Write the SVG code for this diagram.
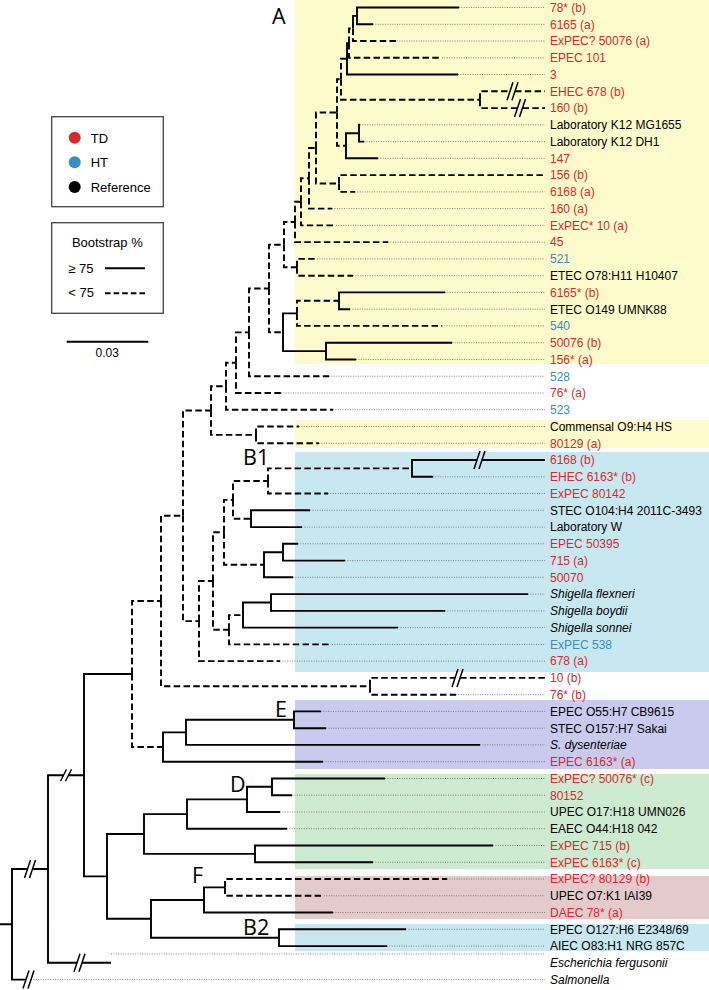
<svg xmlns="http://www.w3.org/2000/svg" xmlns:xlink="http://www.w3.org/1999/xlink" width="709" height="990" viewBox="0 0 709 990">
<style>
.s{fill:none;stroke:#000;stroke-width:1.9}
.d{fill:none;stroke:#000;stroke-width:1.9;stroke-dasharray:6.5 3.3}
.o{fill:none;stroke:#666;stroke-width:0.8;stroke-dasharray:1 1.4}
.bk{fill:none;stroke:#000;stroke-width:1.5}
text{font-family:"Liberation Sans",Arial,sans-serif;font-size:12px}
.r{fill:#d42a2f}.b{fill:#3a8cc4}.k{fill:#000}
.i{font-style:italic}
.cl{font-family:"Open Sans","DejaVu Sans",sans-serif;font-size:21.5px;fill:#000}
.lg{font-size:13px;fill:#000}
.box{fill:#fff;stroke:#444;stroke-width:1.3}
</style>
<defs>
<path id="brk" d="M-5.5 9L0.5 -9M-0.5 9L5.5 -9"/>
</defs>
<rect width="709" height="990" fill="#fff"/>
<g id="bands">
<rect x="295" y="0" width="414" height="364" fill="#fdfacb"/>
<rect x="295" y="420" width="414" height="28" fill="#fdfacb"/>
<rect x="295" y="452" width="414" height="220" fill="#c8e8f1"/>
<rect x="295" y="700" width="414" height="69" fill="#cac9ee"/>
<rect x="295" y="774" width="414" height="95" fill="#cdebd1"/>
<rect x="295" y="876" width="414" height="43" fill="#e4caca"/>
<rect x="295" y="924" width="414" height="27" fill="#c8e8f1"/>
</g>
<g id="clade-labels">
<text class="cl" x="272" y="23.5">A</text>
<text class="cl" x="243" y="465">B1</text>
<text class="cl" x="275" y="717">E</text>
<text class="cl" x="230" y="792">D</text>
<text class="cl" x="192" y="883">F</text>
<text class="cl" x="243" y="935">B2</text>
</g>
<g id="connectors">
<g id="leaders">
<path class="o" d="M459 7.5H545M373 24.3H545M397 41H545M442 57.8H545M458 74.5H545M360 124.8H545M364 141.6H545M378 158.3H545M355 191.9H545M332 208.6H545M336 225.4H545M388 242.1H545M317 258.9H545M353 275.7H545M445 292.4H545M350 309.2H545M442 325.9H545M452 342.7H545M356 359.5H545M329 376.2H545M281 393H545M333 409.7H545M299 426.5H545M319 443.3H545M433 476.8H545M328 493.5H545M310 510.3H545M302 527.1H545M298 543.8H545M345 560.6H545M293 577.3H545M528 594.1H545M445 610.9H545M398 627.6H545M332 644.4H545M280 661.1H545M456 694.7H545M321 711.4H545M326 728.2H545M480 744.9H545M323 761.7H545M385 778.5H545M292 795.2H545M280 812H545M287 828.7H545M493 845.5H545M373 862.3H545M447 879H545M324 895.8H545M333 912.5H545M406 929.3H545M387 946.1H545M111 954H545M31 979.6H545"/>
</g>
<g id="branches-solid">
<path class="s" d="M357 15.9V7.5H459M357 15.9V24.3H373M353 28.5V15.9H357M347 58.8V43.1H349M347 58.8V74.5H458"/>
<path class="s" d="M359 133.2V124.8H360M359 133.2V141.6H364M346 145.8V133.2H359M346 145.8V158.3H378"/>
<path class="s" d="M339 300.8V292.4H445M339 300.8V309.2H350M326 351.1V342.7H452M326 351.1V359.5H356M283 332.2V313.4H297M283 332.2V351.1H326"/>
<path class="s" d="M412 468.4V460H477M482 460H545M412 468.4V476.8H433M251 518.7V510.3H310M251 518.7V527.1H302"/>
<path class="s" d="M283 552.2V543.8H298M283 552.2V560.6H345M264 564.8V552.2H283M264 564.8V577.3H293"/>
<path class="s" d="M271 602.5V594.1H528M271 602.5V610.9H445M243 615.1V602.5H271M243 615.1V627.6H398"/>
<path class="s" d="M294 719.8V711.4H321M294 719.8V728.2H326M186 732.4V719.8H294M186 732.4V744.9H480M163 747V732.4H186M163 747V761.7H323"/>
<path class="s" d="M272 786.8V778.5H385M272 786.8V795.2H292M247 799.4V786.8H272M247 799.4V812H280M187 814.1V799.4H247M187 814.1V828.7H287M255 853.9V845.5H493M255 853.9V862.3H373M144 834V814.1H187M144 834V853.9H255"/>
<path class="s" d="M204 900V887.4H225M204 900V912.5H333M279 937.7V929.3H406M279 937.7V946.1H387M151 918.8V900H204M151 918.8V937.7H279M107 876.4V834H144M107 876.4V918.8H151"/>
<path class="s" d="M84 775.2V674H132M84 775.2V876.4H107M48 869V775.2H63.5M68.5 775.2H84M48 869V962.8H77M82 962.8H111M12 924.3V869H27.5M32.5 869H48M12 924.3V979.6H26M0 924.3H12"/>
</g>
<g id="branches-dashed">
<path class="d" d="M353 28.5V41H397"/>
<path class="d" d="M349 43.1V28.5H353"/>
<path class="d" d="M349 43.1V57.8H442"/>
<path class="d" d="M341 79.2V58.8H347"/>
<path class="d" d="M341 79.2V99.7H480"/>
<path class="d" d="M480 99.7V91.3H510"/>
<path class="d" d="M515 91.3H545"/>
<path class="d" d="M480 99.7V108.1H517.5"/>
<path class="d" d="M522.5 108.1H545"/>
<path class="d" d="M337 112.5V79.2H341"/>
<path class="d" d="M337 112.5V145.8H346"/>
<path class="d" d="M339 183.5V175.1H545"/>
<path class="d" d="M339 183.5V191.9H355"/>
<path class="d" d="M316 148V112.5H337"/>
<path class="d" d="M316 148V183.5H339"/>
<path class="d" d="M309 178.3V148H316"/>
<path class="d" d="M309 178.3V208.6H332"/>
<path class="d" d="M301 201.8V178.3H309"/>
<path class="d" d="M301 201.8V225.4H336"/>
<path class="d" d="M295 222V201.8H301"/>
<path class="d" d="M295 222V242.1H388"/>
<path class="d" d="M297 267.3V258.9H317"/>
<path class="d" d="M297 267.3V275.7H353"/>
<path class="d" d="M284 244.7V222H295"/>
<path class="d" d="M284 244.7V267.3H297"/>
<path class="d" d="M297 313.4V300.8H339"/>
<path class="d" d="M297 313.4V325.9H442"/>
<path class="d" d="M269 288.5V244.7H284"/>
<path class="d" d="M269 288.5V332.2H283"/>
<path class="d" d="M249 332.4V288.5H269"/>
<path class="d" d="M249 332.4V376.2H329"/>
<path class="d" d="M236 362.7V332.4H249"/>
<path class="d" d="M236 362.7V393H281"/>
<path class="d" d="M226 386.2V362.7H236"/>
<path class="d" d="M226 386.2V409.7H333"/>
<path class="d" d="M256 434.9V426.5H299"/>
<path class="d" d="M256 434.9V443.3H319"/>
<path class="d" d="M211 410.5V386.2H226"/>
<path class="d" d="M211 410.5V434.9H256"/>
<path class="d" d="M268 481V468.4H412"/>
<path class="d" d="M268 481V493.5H328"/>
<path class="d" d="M233 499.9V481H268"/>
<path class="d" d="M233 499.9V518.7H251"/>
<path class="d" d="M224 532.3V499.9H233"/>
<path class="d" d="M224 532.3V564.8H264"/>
<path class="d" d="M229 629.7V615.1H243"/>
<path class="d" d="M229 629.7V644.4H332"/>
<path class="d" d="M213 581V532.3H224"/>
<path class="d" d="M213 581V629.7H229"/>
<path class="d" d="M199 621.1V581H213"/>
<path class="d" d="M199 621.1V661.1H280"/>
<path class="d" d="M183 515.8V410.5H211"/>
<path class="d" d="M183 515.8V621.1H199"/>
<path class="d" d="M370 686.3V677.9H455"/>
<path class="d" d="M460 677.9H545"/>
<path class="d" d="M370 686.3V694.7H456"/>
<path class="d" d="M161 601V515.8H183"/>
<path class="d" d="M161 601V686.3H370"/>
<path class="d" d="M132 674V601H161"/>
<path class="d" d="M132 674V747H163"/>
<path class="d" d="M225 887.4V879H447"/>
<path class="d" d="M225 887.4V895.8H324"/>
</g>
<g id="breaks">
<use xlink:href="#brk" class="bk" x="512.5" y="91.3"/>
<use xlink:href="#brk" class="bk" x="520" y="108.1"/>
<use xlink:href="#brk" class="bk" x="479.5" y="460"/>
<use xlink:href="#brk" class="bk" x="457.5" y="677.9"/>
<use xlink:href="#brk" class="bk" transform="translate(66 775.2) scale(1 0.65)"/>
<use xlink:href="#brk" class="bk" x="79.5" y="962.8"/>
<use xlink:href="#brk" class="bk" x="30" y="869"/>
<use xlink:href="#brk" class="bk" x="28.5" y="979.6"/>
</g>
</g>
<g id="leaves">
<g id="n01"><text class="r" x="550" y="11.8">78* (b)</text></g>
<g id="n02"><text class="r" x="550" y="28.6">6165 (a)</text></g>
<g id="n03"><text class="r" x="550" y="45.3">ExPEC? 50076 (a)</text></g>
<g id="n04"><text class="r" x="550" y="62.1">EPEC 101</text></g>
<g id="n05"><text class="r" x="550" y="78.8">3</text></g>
<g id="n06"><text class="r" x="550" y="95.6">EHEC 678 (b)</text></g>
<g id="n07"><text class="r" x="550" y="112.4">160 (b)</text></g>
<g id="n08"><text class="k" x="550" y="129.1">Laboratory K12 MG1655</text></g>
<g id="n09"><text class="k" x="550" y="145.9">Laboratory K12 DH1</text></g>
<g id="n10"><text class="r" x="550" y="162.6">147</text></g>
<g id="n11"><text class="r" x="550" y="179.4">156 (b)</text></g>
<g id="n12"><text class="r" x="550" y="196.2">6168 (a)</text></g>
<g id="n13"><text class="r" x="550" y="212.9">160 (a)</text></g>
<g id="n14"><text class="r" x="550" y="229.7">ExPEC* 10 (a)</text></g>
<g id="n15"><text class="r" x="550" y="246.4">45</text></g>
<g id="n16"><text class="b" x="550" y="263.2">521</text></g>
<g id="n17"><text class="k" x="550" y="280">ETEC O78:H11 H10407</text></g>
<g id="n18"><text class="r" x="550" y="296.7">6165* (b)</text></g>
<g id="n19"><text class="k" x="550" y="313.5">ETEC O149 UMNK88</text></g>
<g id="n20"><text class="b" x="550" y="330.2">540</text></g>
<g id="n21"><text class="r" x="550" y="347">50076 (b)</text></g>
<g id="n22"><text class="r" x="550" y="363.8">156* (a)</text></g>
<g id="n23"><text class="b" x="550" y="380.5">528</text></g>
<g id="n24"><text class="r" x="550" y="397.3">76* (a)</text></g>
<g id="n25"><text class="b" x="550" y="414">523</text></g>
<g id="n26"><text class="k" x="550" y="430.8">Commensal O9:H4 HS</text></g>
<g id="n27"><text class="r" x="550" y="447.6">80129 (a)</text></g>
<g id="n28"><text class="r" x="550" y="464.3">6168 (b)</text></g>
<g id="n29"><text class="r" x="550" y="481.1">EHEC 6163* (b)</text></g>
<g id="n30"><text class="r" x="550" y="497.8">ExPEC 80142</text></g>
<g id="n31"><text class="k" x="550" y="514.6">STEC O104:H4 2011C-3493</text></g>
<g id="n32"><text class="k" x="550" y="531.4">Laboratory W</text></g>
<g id="n33"><text class="r" x="550" y="548.1">EPEC 50395</text></g>
<g id="n34"><text class="r" x="550" y="564.9">715 (a)</text></g>
<g id="n35"><text class="r" x="550" y="581.6">50070</text></g>
<g id="n36"><text class="k i" x="550" y="598.4">Shigella flexneri</text></g>
<g id="n37"><text class="k i" x="550" y="615.2">Shigella boydii</text></g>
<g id="n38"><text class="k i" x="550" y="631.9">Shigella sonnei</text></g>
<g id="n39"><text class="b" x="550" y="648.7">ExPEC 538</text></g>
<g id="n40"><text class="r" x="550" y="665.4">678 (a)</text></g>
<g id="n41"><text class="r" x="550" y="682.2">10 (b)</text></g>
<g id="n42"><text class="r" x="550" y="699">76* (b)</text></g>
<g id="n43"><text class="k" x="550" y="715.7">EPEC O55:H7 CB9615</text></g>
<g id="n44"><text class="k" x="550" y="732.5">STEC O157:H7 Sakai</text></g>
<g id="n45"><text class="k i" x="550" y="749.2">S. dysenteriae</text></g>
<g id="n46"><text class="r" x="550" y="766">EPEC 6163* (a)</text></g>
<g id="n47"><text class="r" x="550" y="782.8">ExPEC? 50076* (c)</text></g>
<g id="n48"><text class="r" x="550" y="799.5">80152</text></g>
<g id="n49"><text class="k" x="550" y="816.3">UPEC O17:H18 UMN026</text></g>
<g id="n50"><text class="k" x="550" y="833">EAEC O44:H18 042</text></g>
<g id="n51"><text class="r" x="550" y="849.8">ExPEC 715 (b)</text></g>
<g id="n52"><text class="r" x="550" y="866.6">ExPEC 6163* (c)</text></g>
<g id="n53"><text class="r" x="550" y="883.3">ExPEC? 80129 (b)</text></g>
<g id="n54"><text class="k" x="550" y="900.1">UPEC O7:K1 IAI39</text></g>
<g id="n55"><text class="r" x="550" y="916.8">DAEC 78* (a)</text></g>
<g id="n56"><text class="k" x="550" y="933.6">EPEC O127:H6 E2348/69</text></g>
<g id="n57"><text class="k" x="550" y="950.4">AIEC O83:H1 NRG 857C</text></g>
<g id="n58"><text class="k i" x="550" y="967.1">Escherichia fergusonii</text></g>
<g id="n59"><text class="k i" x="550" y="983.9">Salmonella</text></g>
</g>
<g id="legend-groups">
<rect class="box" x="51.7" y="116.7" width="111.6" height="90"/>
<circle cx="74.7" cy="137.7" r="6" fill="#d42a2f"/>
<circle cx="74.7" cy="162.3" r="6" fill="#3a8cc4"/>
<circle cx="74.7" cy="187" r="6" fill="#000"/>
<text class="lg" x="90.7" y="142.5">TD</text>
<text class="lg" x="90.7" y="167">HT</text>
<text class="lg" x="90.7" y="191.7">Reference</text>
</g>
<g id="legend-bootstrap">
<rect class="box" x="51.7" y="222.7" width="111.6" height="90.6"/>
<text class="lg" x="107.3" y="247.3" text-anchor="middle">Bootstrap %</text>
<text class="lg" x="68.3" y="272.7">≥ 75</text>
<text class="lg" x="68.3" y="297.3">&lt; 75</text>
<path class="s" d="M105 268.3H145"/>
<path d="M105 293.3H145" fill="none" stroke="#000" stroke-width="1.9" stroke-dasharray="5.6 3"/>
</g>
<g id="scale">
<path class="s" d="M66.7 341.7H148.3"/>
<text x="107.3" y="356.7" text-anchor="middle">0.03</text>
</g>
</svg>
